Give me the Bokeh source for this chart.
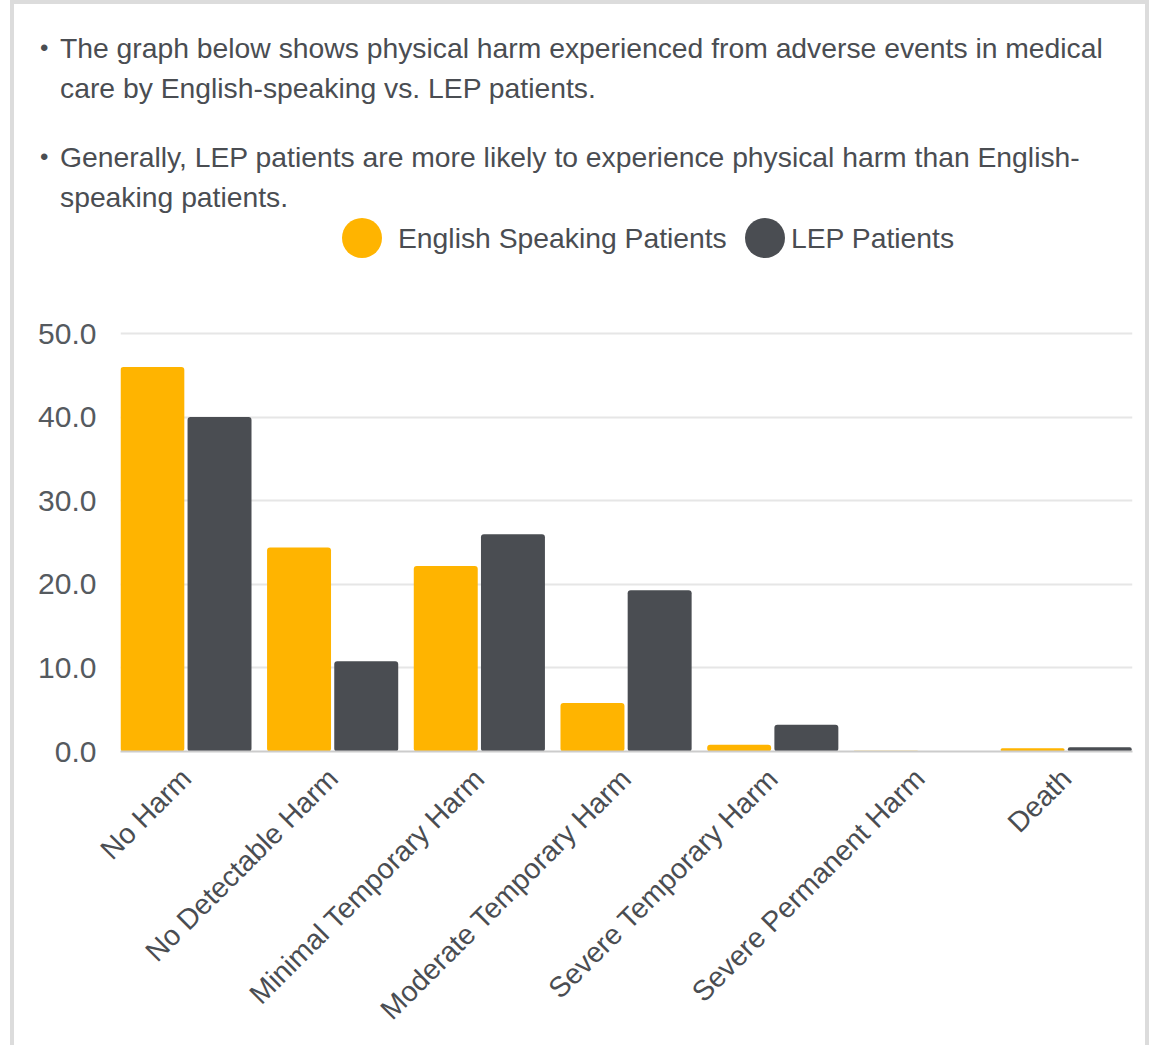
from bokeh.plotting import figure
from bokeh.layouts import column
from bokeh.models import Range1d, FixedTicker, NumeralTickFormatter, Div
from bokeh.embed import file_html
from bokeh.resources import INLINE
import math

categories = ["No Harm", "No Detectable Harm", "Minimal Temporary Harm",
              "Moderate Temporary Harm", "Severe Temporary Harm",
              "Severe Permanent Harm", "Death"]
english = [46.0, 24.4, 22.2, 5.8, 0.8, 0.1, 0.4]
lep = [40.0, 10.8, 26.0, 19.3, 3.2, 0.0, 0.5]
y_ticks = [0, 10, 20, 30, 40, 50]
series_names = ["English Speaking Patients", "LEP Patients"]
colors = ["#FFB400", "#4A4D52"]
bullets = [
    ["The graph below shows physical harm experienced from adverse events in medical",
     "care by English-speaking vs. LEP patients."],
    ["Generally, LEP patients are more likely to experience physical harm than English-",
     "speaking patients."],
]

FONT = "Liberation Sans"
TXT = "#4A4D52"
# page geometry (pixels)
X0, X1 = 14, 1145          # inner content of bordered box
Y0, YSPLIT, YEND = 4, 300, 1045
CW = X1 - X0
FL, FR, FT, FB = 120, 1132, 330, 751

# ---------- header: bullets + legend (HTML text) ----------
parts = []
line_y = [[48, 88], [157, 197]]
for b, lines in enumerate(bullets):
    parts.append(f'<div style="position:absolute;left:{44 - 4 - X0}px;top:{line_y[b][0] - Y0 - 20}px;'
                 f'line-height:40px;font-size:24px;">&bull;</div>')
    for k, t in enumerate(lines):
        parts.append(f'<div style="position:absolute;left:{60 - X0}px;top:{line_y[b][k] - Y0 - 20}px;'
                     f'line-height:40px;font-size:28.3px;white-space:nowrap;">{t}</div>')
leg = [(362, 398), (765, 791)]
for (cx, tx), name, col in zip(leg, series_names, colors):
    parts.append(f'<div style="position:absolute;left:{cx - 20 - X0}px;top:{238 - 20 - Y0}px;'
                 f'width:40px;height:40px;border-radius:50%;background:{col};"></div>')
    parts.append(f'<div style="position:absolute;left:{tx - X0}px;top:{238 - 20 - Y0}px;'
                 f'line-height:40px;font-size:28.3px;white-space:nowrap;">{name}</div>')
html = (f'<div style="position:relative;width:{CW}px;height:{YSPLIT - Y0}px;'
        f'font-family:\'{FONT}\';color:{TXT};background:white;">' + "".join(parts) + '</div>')
hdr = Div(text=html, width=CW, height=YSPLIT - Y0, margin=0)

# ---------- chart ----------
p = figure(width=CW, height=YEND - YSPLIT, output_backend="svg", toolbar_location=None,
           x_range=Range1d(-0.446, 6.452), y_range=Range1d(0, 50.36),
           min_border_left=FL - X0, min_border_right=X1 - FR,
           min_border_top=FT - YSPLIT, min_border_bottom=YEND - FB)
p.outline_line_color = None
p.background_fill_color = "white"
p.border_fill_color = "white"

xs = list(range(len(categories)))
p.vbar(x=[x - 0.229 for x in xs], top=english, width=0.436, bottom=0,
       fill_color=colors[0], line_color=None, border_radius=3)
p.vbar(x=[x + 0.229 for x in xs], top=lep, width=0.436, bottom=0,
       fill_color=colors[1], line_color=None, border_radius=3)

p.xaxis.ticker = FixedTicker(ticks=xs)
p.xaxis.major_label_overrides = {i: c for i, c in enumerate(categories)}
p.xaxis.major_label_orientation = math.pi / 4
p.xaxis.major_label_text_font = FONT
p.xaxis.major_label_text_font_size = "28.5px"
p.xaxis.major_label_text_color = TXT
p.xaxis.major_tick_line_color = None
p.xaxis.minor_tick_line_color = None
p.xaxis.axis_line_color = "#CCCCCC"
p.xaxis.axis_line_width = 2
p.xaxis.major_label_standoff = 16

p.yaxis.ticker = FixedTicker(ticks=y_ticks)
p.yaxis.formatter = NumeralTickFormatter(format="0.0")
p.yaxis.major_label_text_font = FONT
p.yaxis.major_label_text_font_size = "30px"
p.yaxis.major_label_text_color = "#555A5F"
p.yaxis.axis_line_color = None
p.yaxis.major_tick_line_color = None
p.yaxis.minor_tick_line_color = None
p.yaxis.major_label_standoff = 18

p.xgrid.grid_line_color = None
p.ygrid.grid_line_color = "#E6E6E6"
p.ygrid.grid_line_width = 2

layout = column(hdr, p, spacing=0,
                styles={"margin-left": "10px",
                        "border-top": "4px solid #DCDCDC",
                        "border-left": "4px solid #DCDCDC",
                        "border-right": "4px solid #DCDCDC",
                        "background-color": "white"})

open("out.html", "w").write(file_html(layout, INLINE))
